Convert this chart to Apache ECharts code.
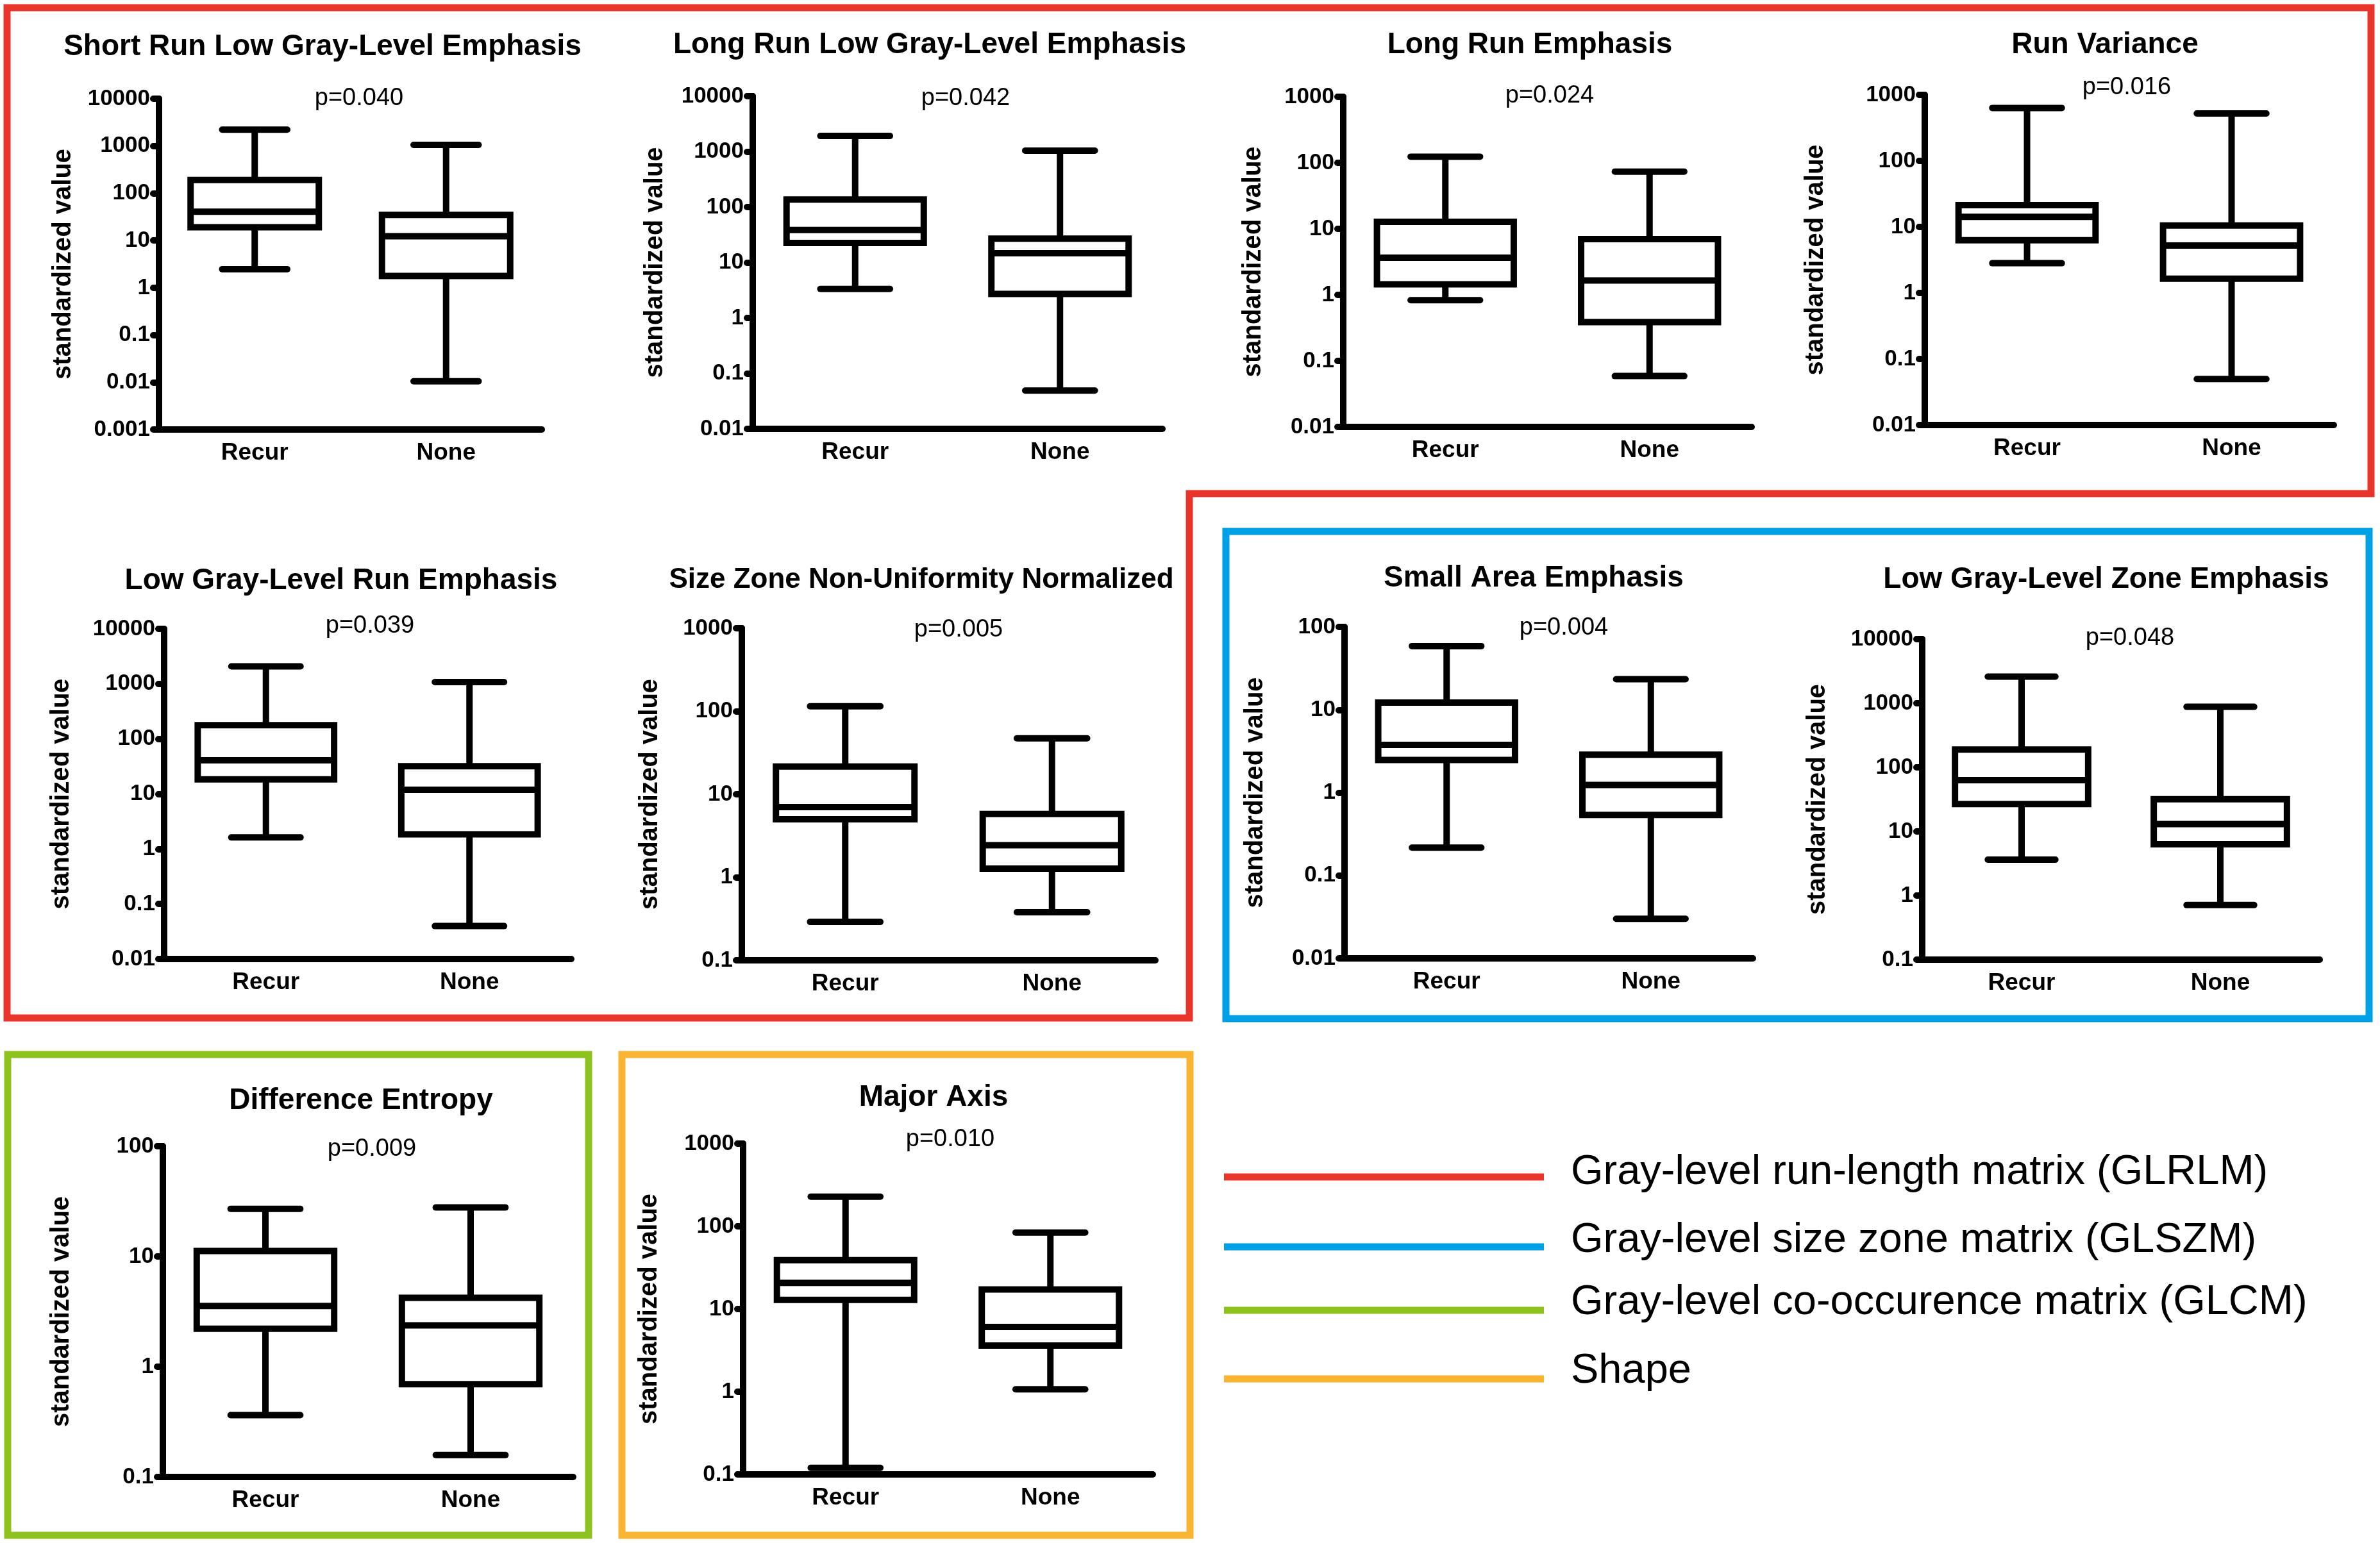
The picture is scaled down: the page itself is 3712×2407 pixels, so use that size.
<!DOCTYPE html>
<html>
<head>
<meta charset="utf-8">
<script src="https://cdn.jsdelivr.net/npm/echarts@6/dist/echarts.min.js"></script>
<style>
html,body{margin:0;padding:0;background:#fff;}
#chart{width:3712px;height:2407px;}
</style>
</head>
<body>
<div id="chart"></div>
<script>
// ---------------- DATA ----------------
const categories = ['Recur', 'None'];
const panelTitles = [
  'Short Run Low Gray-Level Emphasis',
  'Long Run Low Gray-Level Emphasis',
  'Long Run Emphasis',
  'Run Variance',
  'Low Gray-Level Run Emphasis',
  'Size Zone Non-Uniformity Normalized',
  'Small Area Emphasis',
  'Low Gray-Level Zone Emphasis',
  'Difference Entropy',
  'Major Axis'
];
const pValues = ['p=0.040','p=0.042','p=0.024','p=0.016','p=0.039','p=0.005','p=0.004','p=0.048','p=0.009','p=0.010'];
// [min, Q1, median, Q3, max]
const recurStats = [
  [2.47, 19, 40.5, 191, 2210],
  [3.33, 22.5, 38.7, 137, 1914],
  [0.83, 1.45, 3.65, 12.8, 124],
  [2.82, 6.3, 14.2, 21.4, 634],
  [1.62, 18.4, 40.9, 178, 2080],
  [0.29, 5.0, 7.0, 21.6, 115],
  [0.217, 2.48, 3.77, 12.2, 58.7],
  [3.63, 26.7, 63, 189, 2600],
  [0.364, 2.21, 3.56, 11.2, 27],
  [0.12, 12.9, 20.7, 39, 228]
];
const noneStats = [
  [0.0105, 1.77, 12.3, 34.7, 1054],
  [0.049, 2.71, 14.7, 27, 1042],
  [0.059, 0.387, 1.65, 7.0, 73.5],
  [0.0497, 1.64, 5.23, 10.5, 522],
  [0.0397, 1.85, 11.9, 32, 1080],
  [0.38, 1.27, 2.43, 5.78, 47.2],
  [0.030, 0.538, 1.24, 2.87, 23.4],
  [0.71, 6.3, 13, 31.8, 879],
  [0.158, 0.695, 2.37, 4.22, 27.8],
  [1.07, 3.62, 6.07, 17.2, 84]
];
const axisMin = [0.001, 0.01, 0.01, 0.01, 0.01, 0.1, 0.01, 0.1, 0.1, 0.1];
const axisMax = [10000, 10000, 1000, 1000, 10000, 1000, 100, 10000, 100, 1000];
const yAxisName = 'standardized value';
const groupNames = [
  'Gray-level run-length matrix (GLRLM)',
  'Gray-level size zone matrix (GLSZM)',
  'Gray-level co-occurence matrix (GLCM)',
  'Shape'
];

// ---------------- LAYOUT / STYLE ----------------
const W = 3712, H = 2407;
const FONT = "'Liberation Sans', Arial, Helvetica, sans-serif";
const groupColors = ['#e8342b', '#00a0e6', '#8dc21f', '#f9b432'];
// plot area: [axisX, topY, rightX, bottomY]
const plotBoxes = [
  [248, 154, 845, 670],
  [1174, 150, 1813, 669],
  [2095, 151, 2732, 666],
  [3002, 148, 3640, 663],
  [256, 981, 891, 1496],
  [1157, 980, 1802, 1498],
  [2097, 978, 2734, 1495],
  [2998, 997, 3618, 1497],
  [254, 1788, 894, 2304],
  [1159, 1784, 1798, 2300]
];
const titlePos = [[503,73],[1450,70],[2386,70],[3283,70],[532,906],[1437,905],[2392,902],[3285,904],[563,1717],[1456,1712]];
const titleSize = [46,46,46,46,46,44,46,46,46,46];
const pPos = [[560,154],[1506,154],[2417,150],[3317,137],[577,977],[1495,983],[2439,980],[3322,996],[580,1793],[1482,1778]];
const yNameX = [97,1020,1953,2830,94,1012,1956,2833,94,1011];
const LW = 10, BOX_FRAC = 0.67, CAP_FRAC = 0.34;

function renderBox(params, api) {
  const c = api.value(0);
  const pMin = api.coord([c, api.value(1)]);
  const pQ1 = api.coord([c, api.value(2)]);
  const pMed = api.coord([c, api.value(3)]);
  const pQ3 = api.coord([c, api.value(4)]);
  const pMax = api.coord([c, api.value(5)]);
  const band = api.size([1, 0], [c, 1])[0];
  const bw = band * BOX_FRAC, cw = band * CAP_FRAC;
  const x = pMed[0];
  const st = {stroke: '#000', lineWidth: LW, fill: null};
  const stc = {stroke: '#000', lineWidth: LW, fill: null, lineCap: 'round'};
  return {
    type: 'group',
    children: [
      {type: 'line', shape: {x1: x, y1: pQ3[1], x2: x, y2: pMax[1]}, style: st},
      {type: 'line', shape: {x1: x - cw / 2, y1: pMax[1], x2: x + cw / 2, y2: pMax[1]}, style: stc},
      {type: 'line', shape: {x1: x, y1: pQ1[1], x2: x, y2: pMin[1]}, style: st},
      {type: 'line', shape: {x1: x - cw / 2, y1: pMin[1], x2: x + cw / 2, y2: pMin[1]}, style: stc},
      {type: 'rect', shape: {x: x - bw / 2, y: pQ3[1], width: bw, height: pQ1[1] - pQ3[1]},
        style: {stroke: '#000', lineWidth: LW, fill: '#fff', lineJoin: 'miter'}},
      {type: 'line', shape: {x1: x - bw / 2, y1: pMed[1], x2: x + bw / 2, y2: pMed[1]}, style: st}
    ]
  };
}

const grids = [], xAxes = [], yAxes = [], series = [], graphics = [];
for (let i = 0; i < panelTitles.length; i++) {
  const b = plotBoxes[i];
  grids.push({left: b[0], top: b[1], width: b[2] - b[0], height: b[3] - b[1],
    containLabel: false, outerBoundsMode: 'none'});
  xAxes.push({
    type: 'category', gridIndex: i, data: categories, boundaryGap: true,
    axisLine: {lineStyle: {color: '#000', width: LW}},
    axisTick: {alignWithLabel: true, length: 12, lineStyle: {color: '#000', width: LW, cap: 'round'}},
    axisLabel: {color: '#000', fontSize: 37, fontWeight: 'bold', fontFamily: FONT, margin: 18},
    splitLine: {show: false}
  });
  yAxes.push({
    type: 'log', logBase: 10, gridIndex: i, min: axisMin[i], max: axisMax[i],
    name: yAxisName, nameLocation: 'middle', nameRotate: 90,
    nameGap: b[0] - yNameX[i] - 22,
    nameTextStyle: {color: '#000', fontSize: 40, fontWeight: 'bold', fontFamily: FONT},
    axisLine: {show: true, lineStyle: {color: '#000', width: LW, cap: 'round'}},
    axisTick: {show: true, length: 9, lineStyle: {color: '#000', width: LW, cap: 'round'}},
    minorTick: {show: false},
    axisLabel: {color: '#000', fontSize: 35, fontWeight: 'bold', fontFamily: FONT, margin: 14,
      showMinLabel: true, showMaxLabel: true,
      formatter: function (v) { return String(Number(Number(v).toPrecision(6))); }},
    splitLine: {show: false}
  });
  series.push({
    type: 'custom', coordinateSystem: 'cartesian2d', xAxisIndex: i, yAxisIndex: i,
    renderItem: renderBox, clip: false,
    encode: {x: 0, y: [1, 2, 3, 4, 5]},
    data: [[0].concat(recurStats[i]), [1].concat(noneStats[i])],
    silent: true
  });
  graphics.push({type: 'text', x: titlePos[i][0], y: titlePos[i][1],
    style: {text: panelTitles[i], fill: '#000', fontSize: titleSize[i], fontWeight: 'bold', fontFamily: FONT,
      align: 'center', verticalAlign: 'middle'}});
  graphics.push({type: 'text', x: pPos[i][0], y: pPos[i][1],
    style: {text: pValues[i], fill: '#000', fontSize: 38, fontFamily: FONT,
      align: 'center', verticalAlign: 'middle'}});
}

// group frames
const FW = 11;
graphics.push({type: 'polygon', shape: {points: [[11,12],[3698,12],[3698,770],[1855,770],[1855,1588],[11,1588]]},
  style: {fill: null, stroke: groupColors[0], lineWidth: FW}});
graphics.push({type: 'rect', shape: {x: 1912, y: 829, width: 3695 - 1912, height: 1589 - 829},
  style: {fill: null, stroke: groupColors[1], lineWidth: FW}});
graphics.push({type: 'rect', shape: {x: 12, y: 1645, width: 918 - 12, height: 2395 - 1645},
  style: {fill: null, stroke: groupColors[2], lineWidth: FW}});
graphics.push({type: 'rect', shape: {x: 970, y: 1645, width: 1856 - 970, height: 2395 - 1645},
  style: {fill: null, stroke: groupColors[3], lineWidth: FW}});

// key
const keyLineY = [1836, 1945, 2044, 2151];
const keyTextY = [1829, 1935, 2032, 2139];
for (let k = 0; k < groupNames.length; k++) {
  graphics.push({type: 'line', shape: {x1: 1909, y1: keyLineY[k], x2: 2408, y2: keyLineY[k]},
    style: {stroke: groupColors[k], lineWidth: 11}});
  graphics.push({type: 'text', x: 2450, y: keyTextY[k],
    style: {text: groupNames[k], fill: '#000', fontSize: 65, fontFamily: FONT,
      align: 'left', verticalAlign: 'middle'}});
}

const chart = echarts.init(document.getElementById('chart'), null, {renderer: 'canvas', width: W, height: H});
chart.setOption({
  backgroundColor: '#fff',
  animation: false,
  grid: grids,
  xAxis: xAxes,
  yAxis: yAxes,
  series: series,
  graphic: graphics
});
</script>
</body>
</html>
